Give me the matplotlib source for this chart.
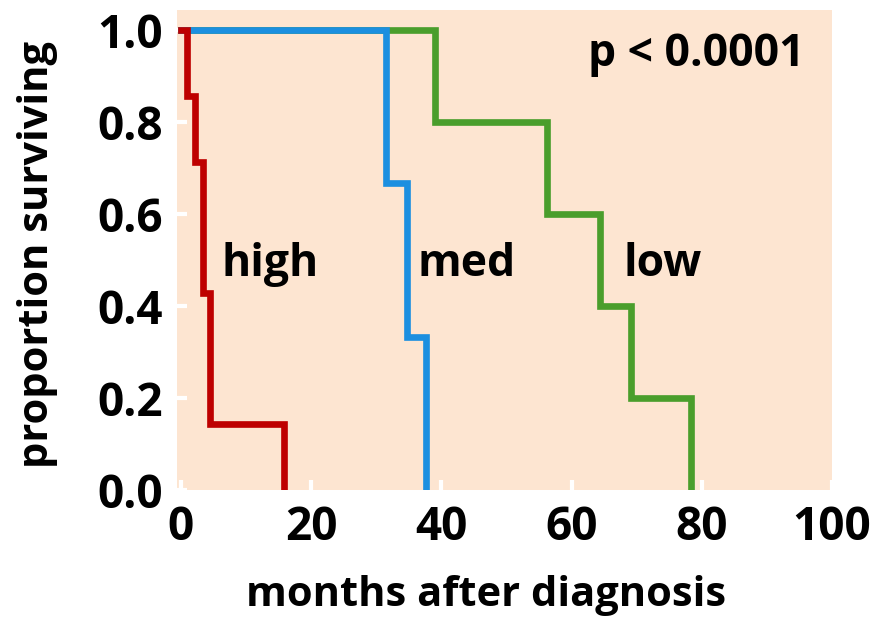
import matplotlib
matplotlib.use("Agg")
import matplotlib.pyplot as plt

plt.rcParams['font.family'] = ['Open Sans', 'DejaVu Sans']

# data
high_t = [0, 0.9, 2.1, 3.4, 4.5, 15.9]
high_s = [1.0, 0.857, 0.714, 0.429, 0.143, 0.0]
med_t = [0, 31.5, 34.7, 37.6]
med_s = [1.0, 0.667, 0.333, 0.0]
low_t = [0, 39.1, 56.2, 64.3, 69.2, 78.3]
low_s = [1.0, 0.8, 0.6, 0.4, 0.2, 0.0]
xticks = [0, 20, 40, 60, 80, 100]
yticks = [0.0, 0.2, 0.4, 0.6, 0.8, 1.0]

fig = plt.figure(figsize=(8.73, 6.17), dpi=100)
ax = fig.add_axes([0.2027, 0.2058, 0.953 - 0.2027, 0.9838 - 0.2058])
ax.set_facecolor('#FDE5D1')

lw = 4.8
ax.step(low_t, low_s, where='post', color='#4A9E2C', lw=lw, solid_joinstyle='miter')
ax.step(med_t, med_s, where='post', color='#1C8FE0', lw=lw, solid_joinstyle='miter')
ax.step(high_t, high_s, where='post', color='#BE0000', lw=lw, solid_joinstyle='miter')

ax.set_xlim(-0.6, 100)
ax.set_ylim(0, 1.0435)
for s in ax.spines.values():
    s.set_visible(False)
ax.set_xticks(xticks)
ax.set_xticklabels([str(v) for v in xticks])
ax.set_yticks(yticks)
ax.set_yticklabels([f"{v:.1f}" for v in yticks])
ax.tick_params(axis='both', direction='in', length=7, width=3, color='white',
               labelsize=33, pad=10)
for lab in ax.get_xticklabels() + ax.get_yticklabels():
    lab.set_fontweight('bold')

ax.set_xlabel('months after diagnosis', fontsize=30, fontweight='bold')
ax.set_ylabel('proportion surviving', fontsize=30, fontweight='bold')
ax.xaxis.set_label_coords(0.472, -0.178)
ax.yaxis.set_label_coords(-0.182, 0.49)

tkw = dict(fontsize=32, fontweight='bold', va='center', ha='left')
ax.text(6.3, 0.49, 'high', **tkw)
ax.text(36.4, 0.49, 'med', **tkw)
ax.text(68.0, 0.49, 'low', **tkw)
ax.text(62.6, 0.946, 'p < 0.0001', **tkw)

fig.savefig('out.png', dpi=100)
